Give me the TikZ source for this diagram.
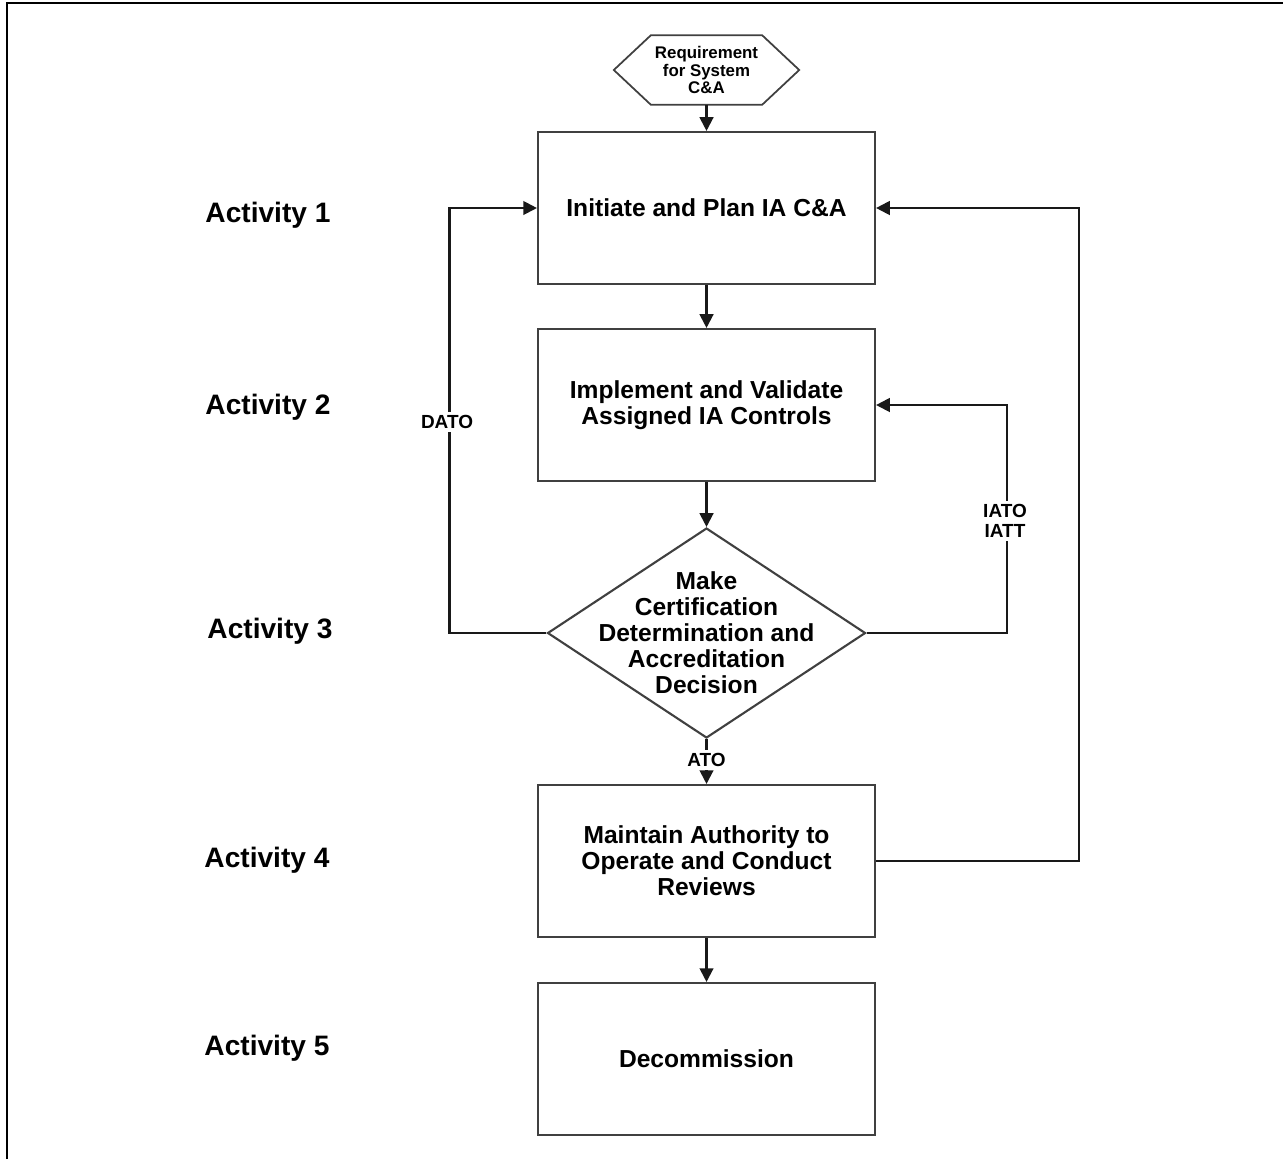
\documentclass[tikz,border=0pt]{standalone}
\usepackage{fontspec}
\setmainfont{Liberation Sans}
\usetikzlibrary{shapes.geometric,arrows.meta}

\begin{document}
\begin{tikzpicture}[every node/.style={font=\bfseries},
  stepbox/.style={draw=black!75, line width=0.6pt, rectangle, minimum width=3.37cm, minimum height=1.52cm, align=center, font=\fontsize{7}{7.4}\selectfont\bfseries},
  flow/.style={draw=black!90, line width=0.6pt, -{Triangle[length=3.9pt,width=3.9pt]}},
  tag/.style={fill=white, inner sep=1pt, align=center, font=\fontsize{5.4}{5.6}\selectfont\bfseries},
  activity/.style={font=\fontsize{8}{9}\selectfont\bfseries}]
\useasboundingbox (0,0) rectangle (12.83,11.59);
% Frame
\draw[line width=0.85pt] (0.07,0) -- (0.07,11.56) -- (12.83,11.56);

% Start - hexagon
\node[inner sep=0, minimum width=1.84cm, minimum height=0.68cm, align=center, font=\fontsize{4.8}{5.0}\selectfont\bfseries] (req) at (7.065,10.89) {Requirement\\for System\\C\&A};
\draw[draw=black!75, line width=0.5pt] (req.west) -- ([xshift=0.37cm]req.north west) -- ([xshift=-0.37cm]req.north east) -- (req.east) -- ([xshift=-0.37cm]req.south east) -- ([xshift=0.37cm]req.south west) -- cycle;

% Steps - vertical flow
\node[stepbox] (s1) at (7.065,9.51) {Initiate and Plan IA C\&A};
\node[stepbox] (s2) at (7.065,7.54) {Implement and Validate\\Assigned IA Controls};
\node[draw=black!75, line width=0.6pt, diamond, minimum width=3.18cm, minimum height=2.10cm, inner sep=0] (s3) at (7.065,5.26) {};
\node[align=center, font=\fontsize{7}{7.4}\selectfont\bfseries] (s3text) at (s3) {Make\\Certification\\Determination and\\Accreditation\\Decision};
\node[stepbox] (s4) at (7.065,2.98) {Maintain Authority to\\Operate and Conduct\\Reviews};
\node[stepbox] (s5) at (7.065,1.00) {Decommission};

% Activities
\node[activity] (a1) at (2.68,9.44) {Activity 1};
\node[activity] (a2) at (2.68,7.52) {Activity 2};
\node[activity] (a3) at (2.70,5.28) {Activity 3};
\node[activity] (a4) at (2.67,2.99) {Activity 4};
\node[activity] (a5) at (2.67,1.11) {Activity 5};

% Arrows
\draw[flow] (req) -- (s1);
\draw[flow] (s1) -- (s2);
\draw[flow] (s2) -- (s3);
\draw[flow] (s3) -- (s4);
\draw[flow] (s4) -- (s5);
\draw[flow] (s3.west) -- ++(-0.97,0) |- (s1.west);
\draw[flow] (s3.east) -- ++(1.40,0) |- (s2.east);
\draw[flow] (s4.east) -- ++(2.03,0) |- (s1.east);

% Decision labels
\node[tag] (dato) at (4.47,7.37) {DATO};
\node[tag] (iato) at (10.05,6.38) {IATO\\IATT};
\node[tag] (ato) at (7.065,3.99) {ATO};
\end{tikzpicture}
\end{document}
